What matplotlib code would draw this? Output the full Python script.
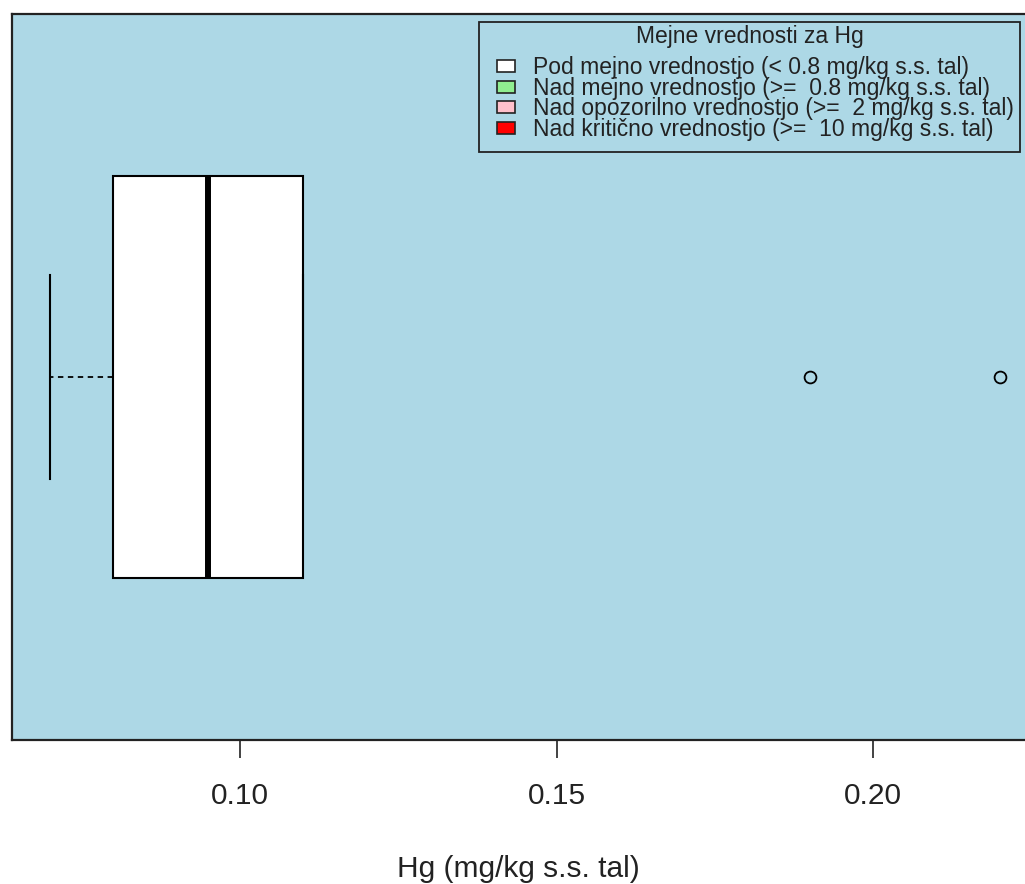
import matplotlib
matplotlib.use("Agg")
import matplotlib.pyplot as plt
from matplotlib.patches import Rectangle

plt.rcParams["font.family"] = ["Liberation Sans", "DejaVu Sans"]

# box statistics for Hg (mg/kg s.s. tal)
hg_stats = [{
    "whislo": 0.07,
    "q1": 0.08,
    "med": 0.095,
    "q3": 0.11,
    "whishi": 0.11,
    "fliers": [0.19, 0.22],
}]
x_ticks = [0.10, 0.15, 0.20]
tick_labels = ["0.10", "0.15", "0.20"]

legend_title = "Mejne vrednosti za Hg"
legend_labels = [
    "Pod mejno vrednostjo (< 0.8 mg/kg s.s. tal)",
    "Nad mejno vrednostjo (>=  0.8 mg/kg s.s. tal)",
    "Nad opozorilno vrednostjo (>=  2 mg/kg s.s. tal)",
    "Nad kritično vrednostjo (>=  10 mg/kg s.s. tal)",
]
legend_colors = ["white", "lightgreen", "pink", "red"]

W, H = 1025, 884
fig = plt.figure(figsize=(W / 100, H / 100), dpi=100)
ax = fig.add_axes([12 / W, 1 - 740 / H, 1026 / W, 726 / H])
ax.set_facecolor("lightblue")

ax.bxp(hg_stats, positions=[1], widths=0.555, vert=False, patch_artist=True,
       showcaps=True,
       boxprops=dict(facecolor="white", edgecolor="black", linewidth=1.5),
       medianprops=dict(color="black", linewidth=4.3, solid_capstyle="butt"),
       whiskerprops=dict(color="black", linewidth=1.3, linestyle=(0, (3, 2.5))),
       capprops=dict(color="black", linewidth=1.5),
       capwidths=0.28,
       flierprops=dict(marker="o", markerfacecolor="none", markeredgecolor="black",
                       markersize=8.5, markeredgewidth=1.3))

ax.set_xlim(0.064, 0.226)
ax.set_ylim(0.5, 1.5)
ax.set_yticks([])
ax.set_xticks(x_ticks)
ax.set_xticklabels(tick_labels, fontsize=21.5, color="#222222")
ax.tick_params(axis="x", length=13, width=1.2, pad=17, color="#222222")
for sp in ax.spines.values():
    sp.set_linewidth(1.6)
    sp.set_color("#222222")

ax.set_xlabel("Hg (mg/kg s.s. tal)", fontsize=21.5, color="#222222")
ax.xaxis.label.set_va("center")
ax.xaxis.set_label_coords((518 - 12) / 1026, -(869 - 740) / 726)


def px(x, y):
    return x / W, 1 - y / H


# legend drawn R-style in figure pixels
fig.patches.append(Rectangle(px(479, 152), 541 / W, 130 / H, transform=fig.transFigure,
                             facecolor="none", edgecolor="#222222", linewidth=1.3))
tx, ty = px(749.5, 43)
fig.text(tx, ty, legend_title, fontsize=16.5, ha="center", va="baseline", color="#222222")
for i, (lab, col) in enumerate(zip(legend_labels, legend_colors)):
    cy = 66 + i * 20.7
    fig.patches.append(Rectangle(px(497, cy + 6), 18 / W, 12 / H, transform=fig.transFigure,
                                 facecolor=col, edgecolor="#222222", linewidth=1.2))
    lx, ly = px(533, cy + 8)
    fig.text(lx, ly, lab, fontsize=16.5, ha="left", va="baseline", color="#222222")

fig.savefig("out.png", dpi=100)
